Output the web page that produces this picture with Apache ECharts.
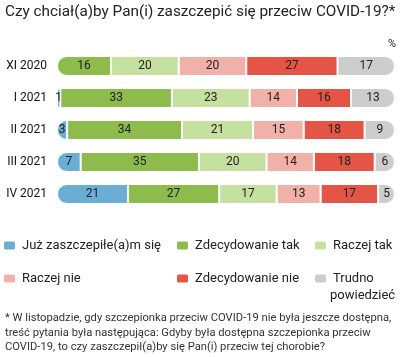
<!DOCTYPE html>
<html><head><meta charset="utf-8">
<script src="https://cdn.jsdelivr.net/npm/echarts@6/dist/echarts.min.js"></script>
<style>html,body{margin:0;padding:0;background:#fff}#c{width:400px;height:357px}</style>
</head><body><div id="c"></div>
<script>
var categories = ['XI 2020', 'I 2021', 'II 2021', 'III 2021', 'IV 2021'];
var juz = [null, 1, 3, 7, 21];
var zdecTak = [16, 33, 34, 35, 27];
var raczejTak = [20, 23, 21, 20, 17];
var raczejNie = [20, 14, 15, 14, 13];
var zdecNie = [27, 16, 18, 18, 17];
var trudno = [17, 13, 9, 6, 5];
var seriesNames = ['Już zaszczepiłe(a)m się', 'Zdecydowanie tak', 'Raczej tak', 'Raczej nie', 'Zdecydowanie nie', 'Trudno powiedzieć'];
var colors = ['#6aaed5', '#8dbb4c', '#c6e0a0', '#f2b1a8', '#e45546', '#cdcdcd'];
var allData = [juz, zdecTak, raczejTak, raczejNie, zdecNie, trudno];

var R = 10;
var series = allData.map(function (arr, si) {
  return {
    name: seriesNames[si],
    type: 'bar',
    stack: 'a',
    barWidth: 20,
    itemStyle: { color: colors[si], borderColor: '#fff', borderWidth: 1 },
    label: { show: true, position: 'inside', color: '#222', fontSize: 12, fontFamily: 'Roboto' },
    data: arr.map(function (v, ci) {
      var first = -1, last = -1;
      for (var k = 0; k < allData.length; k++) {
        if (allData[k][ci] != null && allData[k][ci] > 0) { if (first < 0) first = k; last = k; }
      }
      var r = [si === first ? R : 0, si === last ? R : 0, si === last ? R : 0, si === first ? R : 0];
      return { value: v, itemStyle: { borderRadius: r } };
    })
  };
});

var legendPos = [
  { left: 2, top: 239 }, { left: 175, top: 239 }, { left: 313, top: 239 },
  { left: 2, top: 272 }, { left: 175, top: 272 }, { left: 313, top: 272 }
];
var legends = seriesNames.map(function (n, i) {
  return {
    data: [n], left: legendPos[i].left, top: legendPos[i].top, padding: 0,
    itemWidth: 13, itemHeight: 10, itemGap: 0, icon: 'roundRect', selectedMode: false,
    formatter: function (name) { return name === 'Trudno powiedzieć' ? 'Trudno' : name; },
    textStyle: { fontSize: 13, color: '#222', fontFamily: 'Roboto', padding: [0, 0, 0, 1] }
  };
});

var chart = echarts.init(document.getElementById('c'), null, { renderer: 'canvas' });
chart.setOption({
  animation: false,
  color: colors,
  title: {
    text: 'Czy chciał(a)by Pan(i) zaszczepić się przeciw COVID-19?*',
    left: 5, top: 5, padding: 0,
    textStyle: { fontSize: 15.3, fontWeight: 'normal', color: '#222', fontFamily: 'Roboto' }
  },
  legend: legends,
  grid: { left: 57, right: 5, top: 50, height: 160, containLabel: false },
  xAxis: { type: 'value', min: 0, max: 100, show: false },
  yAxis: {
    type: 'category', data: categories, inverse: true,
    axisLine: { show: false }, axisTick: { show: false },
    axisLabel: { fontSize: 12, color: '#111', margin: 10, fontFamily: 'Roboto', fontWeight: 'normal' }
  },
  series: series,
  graphic: [
    { type: 'text', right: 4, top: 39, style: { text: '%', fontSize: 11, fill: '#222', fontFamily: 'Roboto' } },
    { type: 'text', left: 330, top: 289, style: { text: 'powiedzieć', fontSize: 13, fill: '#222', fontFamily: 'Roboto' } },
    { type: 'text', left: 5, top: 311, style: {
      text: '* W listopadzie, gdy szczepionka przeciw COVID-19 nie była jeszcze dostępna,\ntreść pytania była następująca: Gdyby była dostępna szczepionka przeciw\nCOVID-19, to czy zaszczepił(a)by się Pan(i) przeciw tej chorobie?',
      fontSize: 11.2, lineHeight: 14.5, fill: '#333', fontFamily: 'Roboto' } }
  ]
});
</script></body></html>
